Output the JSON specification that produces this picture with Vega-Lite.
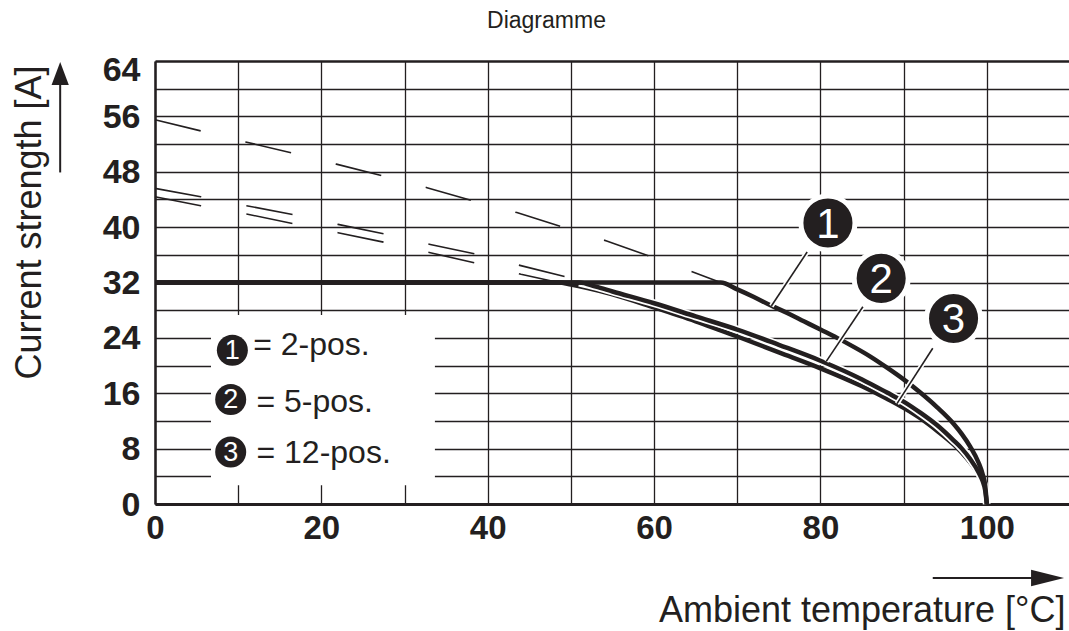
{
  "$schema": "https://vega.github.io/schema/vega-lite/v6.json",
  "width": 915,
  "height": 443,
  "autosize": {"type": "none"},
  "padding": {"left": 155, "top": 61, "right": 0, "bottom": 127},
  "background": "white",
  "title": {"text": "Diagramme", "font": "Liberation Sans", "fontSize": 23, "fontWeight": "normal", "color": "#231f20", "anchor": "middle", "frame": "group", "dx": -66, "offset": 20},
  "config": {"view": {"stroke": null}, "font": "Liberation Sans"},
  "datasets": {
    "box": [{"x": 6.73, "x2": 33.65, "y": 2.72, "y2": 27.3}],
    "dashed": [
      {"c": "1", "x": 0, "y": 55.5}, {"c": "1", "x": 5.5, "y": 53.9}, {"c": "1", "x": 10.9, "y": 52.3}, {"c": "1", "x": 16.5, "y": 50.7}, {"c": "1", "x": 21.8, "y": 49.1}, {"c": "1", "x": 27.4, "y": 47.4}, {"c": "1", "x": 32.7, "y": 45.7}, {"c": "1", "x": 38.2, "y": 43.8}, {"c": "1", "x": 43.5, "y": 42.1}, {"c": "1", "x": 49, "y": 40.0}, {"c": "1", "x": 54.3, "y": 38.0}, {"c": "1", "x": 59.7, "y": 35.7}, {"c": "1", "x": 64.9, "y": 33.4}, {"c": "1", "x": 68, "y": 32},
      {"c": "2", "x": 0, "y": 45.6}, {"c": "2", "x": 5.5, "y": 44.4}, {"c": "2", "x": 11, "y": 43.1}, {"c": "2", "x": 16.6, "y": 41.8}, {"c": "2", "x": 22, "y": 40.4}, {"c": "2", "x": 27.6, "y": 39.0}, {"c": "2", "x": 33.1, "y": 37.5}, {"c": "2", "x": 38.6, "y": 36.1}, {"c": "2", "x": 44.1, "y": 34.4}, {"c": "2", "x": 49.5, "y": 32.8}, {"c": "2", "x": 51, "y": 32},
      {"c": "3", "x": 0, "y": 44.4}, {"c": "3", "x": 5.5, "y": 43.1}, {"c": "3", "x": 11, "y": 41.9}, {"c": "3", "x": 16.6, "y": 40.5}, {"c": "3", "x": 22, "y": 39.2}, {"c": "3", "x": 27.6, "y": 37.8}, {"c": "3", "x": 33.1, "y": 36.3}, {"c": "3", "x": 38.6, "y": 34.8}, {"c": "3", "x": 44, "y": 33.2}, {"c": "3", "x": 48.5, "y": 32}
    ],
    "curves": [
      {"c": "1", "x": 0, "y": 32}, {"c": "1", "x": 68, "y": 32}, {"c": "1", "x": 70, "y": 31.0}, {"c": "1", "x": 72, "y": 29.9}, {"c": "1", "x": 74, "y": 28.7}, {"c": "1", "x": 76, "y": 27.6}, {"c": "1", "x": 78, "y": 26.4}, {"c": "1", "x": 80, "y": 25.2}, {"c": "1", "x": 82, "y": 24.0}, {"c": "1", "x": 84, "y": 22.7}, {"c": "1", "x": 86, "y": 21.3}, {"c": "1", "x": 88, "y": 19.7}, {"c": "1", "x": 90, "y": 18.0}, {"c": "1", "x": 92, "y": 16.1}, {"c": "1", "x": 94, "y": 14.0}, {"c": "1", "x": 96, "y": 11.6}, {"c": "1", "x": 97, "y": 10.1}, {"c": "1", "x": 98, "y": 8.3}, {"c": "1", "x": 99, "y": 6.0}, {"c": "1", "x": 99.5, "y": 4.3}, {"c": "1", "x": 99.8, "y": 2.7}, {"c": "1", "x": 100, "y": 0},
      {"c": "2", "x": 0, "y": 32}, {"c": "2", "x": 51, "y": 32}, {"c": "2", "x": 53, "y": 31.4}, {"c": "2", "x": 55, "y": 30.7}, {"c": "2", "x": 60, "y": 29.0}, {"c": "2", "x": 65, "y": 27.1}, {"c": "2", "x": 70, "y": 25.2}, {"c": "2", "x": 75, "y": 23.0}, {"c": "2", "x": 80, "y": 20.7}, {"c": "2", "x": 85, "y": 18.0}, {"c": "2", "x": 88, "y": 16.1}, {"c": "2", "x": 90, "y": 14.8}, {"c": "2", "x": 92, "y": 13.2}, {"c": "2", "x": 94, "y": 11.4}, {"c": "2", "x": 96, "y": 9.2}, {"c": "2", "x": 97, "y": 8.0}, {"c": "2", "x": 98, "y": 6.5}, {"c": "2", "x": 99, "y": 4.6}, {"c": "2", "x": 99.5, "y": 3.3}, {"c": "2", "x": 99.8, "y": 2.0}, {"c": "2", "x": 100, "y": 0},
      {"c": "3", "x": 0, "y": 32}, {"c": "3", "x": 48.5, "y": 32}, {"c": "3", "x": 50, "y": 31.7}, {"c": "3", "x": 52, "y": 31.2}, {"c": "3", "x": 55, "y": 30.3}, {"c": "3", "x": 60, "y": 28.4}, {"c": "3", "x": 65, "y": 26.4}, {"c": "3", "x": 70, "y": 24.2}, {"c": "3", "x": 75, "y": 21.9}, {"c": "3", "x": 80, "y": 19.6}, {"c": "3", "x": 85, "y": 17.0}, {"c": "3", "x": 88, "y": 15.2}, {"c": "3", "x": 90, "y": 13.9}, {"c": "3", "x": 92, "y": 12.4}, {"c": "3", "x": 94, "y": 10.6}, {"c": "3", "x": 96, "y": 8.6}, {"c": "3", "x": 97, "y": 7.4}, {"c": "3", "x": 98, "y": 6.0}, {"c": "3", "x": 99, "y": 4.3}, {"c": "3", "x": 99.5, "y": 3.0}, {"c": "3", "x": 99.8, "y": 1.9}, {"c": "3", "x": 100, "y": 0}
    ],
    "leaders": [
      {"x": 78.4, "y": 36.4, "x2": 74.1, "y2": 28.6},
      {"x": 85.1, "y": 28.5, "x2": 80.7, "y2": 20.6},
      {"x": 93.5, "y": 22.5, "x2": 89.2, "y2": 14.5}
    ],
    "badges": [
      {"n": "1", "x": 80.9, "y": 40.6},
      {"n": "2", "x": 87.3, "y": 32.6},
      {"n": "3", "x": 96.0, "y": 26.8}
    ],
    "legendDots": [
      {"n": "1", "x": 9.3, "y": 22.2},
      {"n": "2", "x": 9.1, "y": 15.1},
      {"n": "3", "x": 9.1, "y": 7.5}
    ],
    "legendText": [
      {"label": "= 2-pos.", "x": 11.8, "y": 21.5},
      {"label": "= 5-pos.", "x": 12.2, "y": 13.3},
      {"label": "= 12-pos.", "x": 12.2, "y": 5.9}
    ],
    "arrowLines": [
      {"x": -11.4, "y": 47.9, "x2": -11.4, "y2": 61.5},
      {"x": 93.5, "y": -10.7, "x2": 106, "y2": -10.7}
    ],
    "arrowUp": [{"x": -11.4, "y": 62.2}],
    "arrowRight": [{"x": 107.3, "y": -10.7}]
  },
  "encoding": {
    "x": {
      "field": "x", "type": "quantitative",
      "scale": {"domain": [0, 110], "nice": false, "zero": false},
      "axis": {
        "values": [0, 10, 20, 30, 40, 50, 60, 70, 80, 90, 100],
        "labelExpr": "datum.value % 20 === 0 ? datum.label : ''",
        "grid": true, "gridColor": "#231f20", "gridWidth": 1.3, "gridOpacity": 1,
        "domainColor": "#231f20", "domainWidth": 3,
        "ticks": false, "tickSize": 0,
        "labelFont": "Liberation Sans", "labelFontWeight": "bold", "labelFontSize": 33, "labelColor": "#231f20",
        "labelPadding": 8, "labelFlush": false, "labelOverlap": false,
        "title": "Ambient temperature [°C]",
        "titleFont": "Liberation Sans", "titleFontSize": 36, "titleFontWeight": "normal", "titleColor": "#231f20",
        "titleX": 910, "titleY": 117, "titleAlign": "right", "titleBaseline": "alphabetic"
      }
    },
    "y": {
      "field": "y", "type": "quantitative",
      "scale": {"domain": [0, 64], "nice": false, "zero": false},
      "axis": {
        "values": [0, 4, 8, 12, 16, 20, 24, 28, 32, 36, 40, 44, 48, 52, 56, 60, 64],
        "labelExpr": "datum.value % 8 === 0 ? datum.label : ''",
        "grid": true, "gridColor": "#231f20", "gridOpacity": 1,
        "gridWidth": {"condition": {"test": "datum.value == 64", "value": 2.5}, "value": 1.3},
        "domainColor": "#231f20", "domainWidth": 2.5,
        "ticks": false, "tickSize": 0,
        "labelFont": "Liberation Sans", "labelFontWeight": "bold", "labelFontSize": 34, "labelColor": "#231f20",
        "labelPadding": 15, "labelFlush": false, "labelOverlap": false, "labelBaseline": "middle",
        "labelOffset": {"condition": {"test": "datum.value == 64", "value": 9}, "value": 1},
        "title": "Current strength [A]",
        "titleFont": "Liberation Sans", "titleFontSize": 36, "titleFontWeight": "normal", "titleColor": "#231f20",
        "titleAngle": -90, "titleX": -115, "titleY": 161, "titleAlign": "center", "titleBaseline": "alphabetic"
      }
    }
  },
  "layer": [
    {
      "data": {"name": "box"},
      "mark": {"type": "rect", "color": "white", "opacity": 1},
      "encoding": {"x2": {"field": "x2"}, "y2": {"field": "y2"}}
    },
    {
      "data": {"name": "dashed"},
      "mark": {"type": "line", "color": "#231f20", "strokeWidth": 1.6, "strokeDash": [47, 46]},
      "encoding": {"detail": {"field": "c", "type": "nominal"}}
    },
    {
      "data": {"name": "curves"},
      "transform": [{"filter": "datum.c == '3'"}],
      "mark": {"type": "line", "color": "#231f20", "strokeWidth": 4.5, "interpolate": "monotone"},
      "encoding": {}
    },
    {
      "data": {"name": "curves"},
      "transform": [{"filter": "datum.c == '2' && datum.x >= 51"}],
      "mark": {"type": "line", "color": "white", "strokeWidth": 8, "interpolate": "monotone"},
      "encoding": {}
    },
    {
      "data": {"name": "curves"},
      "transform": [{"filter": "datum.c == '2'"}],
      "mark": {"type": "line", "color": "#231f20", "strokeWidth": 4.5, "interpolate": "monotone"},
      "encoding": {}
    },
    {
      "data": {"name": "curves"},
      "transform": [{"filter": "datum.c == '1'"}],
      "mark": {"type": "line", "color": "#231f20", "strokeWidth": 4.5, "interpolate": "monotone"},
      "encoding": {}
    },
    {
      "data": {"name": "leaders"},
      "mark": {"type": "rule", "color": "white", "strokeWidth": 5},
      "encoding": {"x2": {"field": "x2"}, "y2": {"field": "y2"}}
    },
    {
      "data": {"name": "leaders"},
      "mark": {"type": "rule", "color": "#231f20", "strokeWidth": 1.6},
      "encoding": {"x2": {"field": "x2"}, "y2": {"field": "y2"}}
    },
    {
      "data": {"name": "badges"},
      "mark": {"type": "circle", "size": 2922, "fill": "#231f20", "stroke": "white", "strokeWidth": 5, "opacity": 1, "fillOpacity": 1},
      "encoding": {}
    },
    {
      "data": {"name": "badges"},
      "mark": {"type": "text", "font": "Liberation Sans", "fontSize": 42, "color": "white", "align": "center", "baseline": "middle", "dy": 2},
      "encoding": {"text": {"field": "n"}}
    },
    {
      "data": {"name": "legendDots"},
      "mark": {"type": "circle", "size": 962, "fill": "#231f20", "opacity": 1, "fillOpacity": 1},
      "encoding": {}
    },
    {
      "data": {"name": "legendDots"},
      "mark": {"type": "text", "font": "Liberation Sans", "fontSize": 27, "color": "white", "align": "center", "baseline": "middle", "dy": 1},
      "encoding": {"text": {"field": "n"}}
    },
    {
      "data": {"name": "legendText"},
      "mark": {"type": "text", "font": "Liberation Sans", "fontSize": 32, "color": "#231f20", "align": "left", "baseline": "alphabetic"},
      "encoding": {"text": {"field": "label"}}
    },
    {
      "data": {"name": "arrowLines"},
      "mark": {"type": "rule", "color": "#231f20", "strokeWidth": 2},
      "encoding": {"x2": {"field": "x2"}, "y2": {"field": "y2"}}
    },
    {
      "data": {"name": "arrowUp"},
      "mark": {"type": "point", "shape": "M0,-1L-0.75,1L0.75,1Z", "size": 529, "filled": true, "color": "#231f20", "opacity": 1},
      "encoding": {}
    },
    {
      "data": {"name": "arrowRight"},
      "mark": {"type": "point", "shape": "M1,0L-1,-0.5L-1,0.5Z", "size": 1089, "filled": true, "color": "#231f20", "opacity": 1},
      "encoding": {}
    }
  ]
}
